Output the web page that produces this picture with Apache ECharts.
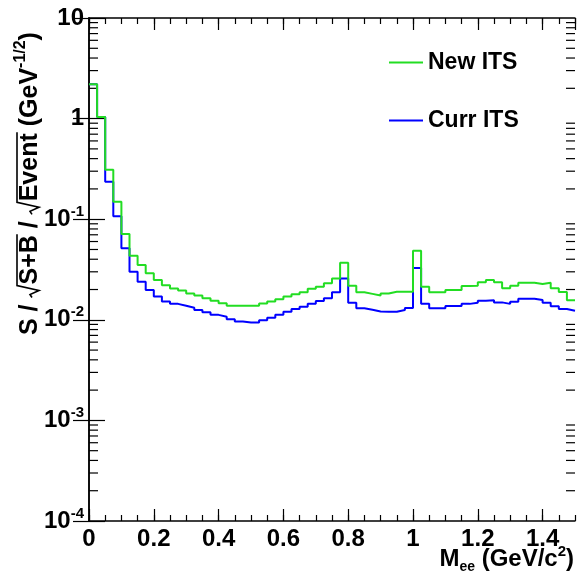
<!DOCTYPE html>
<html>
<head>
<meta charset="utf-8">
<script src="https://cdn.jsdelivr.net/npm/echarts@6.0.0/dist/echarts.min.js"></script>
<style>
  html, body { margin: 0; padding: 0; background: #fff; }
  #chart-container { width: 577px; height: 573px; }
</style>
</head>
<body>
<div id="chart-container"></div>
<script>
// histogram bins: 60 bins of 25 MeV from 0 to 1.5 GeV/c2
var binWidth = 0.025;
var xMax = 1.5;
var seriesNames = ["New ITS", "Curr ITS"];
var newIts = [
  2.2, 1.04, 0.31, 0.149, 0.0713, 0.0434, 0.0351, 0.029, 0.0249, 0.0221,
  0.0205, 0.0195, 0.0183, 0.0174, 0.0164, 0.0155, 0.0146, 0.0138, 0.0138, 0.0138,
  0.0138, 0.0145, 0.0152, 0.016, 0.017, 0.0179, 0.0188, 0.0203, 0.0213, 0.0231,
  0.0258, 0.037, 0.0218, 0.0188, 0.0181, 0.0174, 0.0183, 0.019, 0.019, 0.019,
  0.0486, 0.0213, 0.0188, 0.0188, 0.0198, 0.0198, 0.0217, 0.0218, 0.0236, 0.0249,
  0.0236, 0.0206, 0.0218, 0.0234, 0.0234, 0.0227, 0.0234, 0.0206, 0.0189, 0.0156
];
var currIts = [
  2.2, 1.04, 0.236, 0.107, 0.0513, 0.03, 0.0239, 0.0198, 0.017, 0.0152,
  0.0144, 0.0138, 0.0132, 0.0125, 0.0119, 0.0112, 0.0107, 0.0101, 0.0096, 0.0094,
  0.0094, 0.0099, 0.0105, 0.0112, 0.012, 0.0128, 0.0135, 0.0144, 0.0154, 0.0164,
  0.0188, 0.0258, 0.0148, 0.013, 0.0126, 0.0121, 0.012, 0.012, 0.0125, 0.0131,
  0.0328, 0.0144, 0.013, 0.013, 0.0137, 0.0137, 0.0144, 0.0148, 0.0155, 0.0156,
  0.0149, 0.0144, 0.0151, 0.0162, 0.0162, 0.0157, 0.0148, 0.0136, 0.0128, 0.0123
];
var yMin = 1e-4;
var yMax = 10;
var xMajor = 0.2;
var xMinor = 0.05;
var minorMultipliers = [2, 3, 4, 5, 6, 7, 8, 9];

var font = '"Liberation Sans", Arial, Helvetica, sans-serif';

// step data: left edge of each bin, plus closing point at the right edge
function toSteps(values) {
  var pts = values.map(function (v, i) { return [i * binWidth, v]; });
  pts.push([values.length * binWidth, values[values.length - 1]]);
  return pts;
}

var yMinorTicks = [];
for (var e = -4; e < 1; e++) {
  minorMultipliers.forEach(function (m) { yMinorTicks.push([0, m * Math.pow(10, e)]); });
}

// y axis title with radicals drawn as polylines
var ctx = document.createElement("canvas").getContext("2d");
function textW(str, size) {
  ctx.font = "bold " + size + "px " + font;
  return ctx.measureText(str).width;
}
var nameParts = [];
var cx = 0;
var nameSize = 25;
function addText(str, size, dy) {
  nameParts.push({
    type: "text", x: cx, y: dy || 0,
    style: { text: str, font: "bold " + size + "px " + font, fill: "#000", textAlign: "left", textVerticalAlign: "middle" }
  });
  cx += textW(str, size);
}
function addRadical(str) {
  var r0 = cx;
  cx += 13;
  addText(str, nameSize);
  nameParts.push({
    type: "polyline",
    shape: { points: [[r0, 2], [r0 + 3, 0], [r0 + 7, 9], [r0 + 12, -13], [cx + 1, -13]] },
    style: { stroke: "#000", lineWidth: 1.6, fill: null }
  });
}
addText("S / ", nameSize);
addRadical("S+B");
addText(" / ", nameSize);
addRadical("Event");
addText(" (GeV", nameSize);
addText("-1/2", 16, -9);
addText(")", nameSize);

var dom = document.getElementById("chart-container");
var myChart = echarts.init(dom, null, { renderer: "canvas" });
var option = {
  animation: false,
  backgroundColor: "#fff",
  grid: { left: 89, right: 2, top: 18, bottom: 52, containLabel: false, outerBoundsMode: "none" },
  legend: {
    data: seriesNames,
    orient: "vertical",
    left: 384,
    top: 46,
    icon: "rect",
    itemWidth: 34,
    itemHeight: 2,
    itemGap: 35,
    textStyle: { fontSize: 23, fontWeight: "bold", color: "#000", fontFamily: font }
  },
  xAxis: [
    {
      type: "value", position: "bottom", min: 0, max: xMax, interval: xMajor,
      axisLine: { lineStyle: { color: "#000", width: 1.5 } },
      axisTick: { inside: true, length: 12, lineStyle: { color: "#000", width: 1.2 } },
      axisLabel: {
        showMaxLabel: false, margin: 6, color: "#000", fontSize: 24, fontWeight: "bold", fontFamily: font,
        formatter: function (v) { return Math.abs(v - xMax) < 1e-9 ? "" : String(+v.toFixed(2)); }
      },
      splitLine: { show: false }
    },
    {
      type: "value", position: "bottom", min: 0, max: xMax, interval: xMinor,
      axisLine: { show: false },
      axisTick: { inside: true, length: 6, lineStyle: { color: "#000", width: 1.2 } },
      axisLabel: { show: false }, splitLine: { show: false }
    },
    {
      type: "value", position: "top", min: 0, max: xMax, interval: xMajor,
      axisLine: { lineStyle: { color: "#000", width: 1.5 } },
      axisTick: { inside: true, length: 12, lineStyle: { color: "#000", width: 1.2 } },
      axisLabel: { show: false }, splitLine: { show: false }
    },
    {
      type: "value", position: "top", min: 0, max: xMax, interval: xMinor,
      axisLine: { show: false },
      axisTick: { inside: true, length: 6, lineStyle: { color: "#000", width: 1.2 } },
      axisLabel: { show: false }, splitLine: { show: false }
    }
  ],
  yAxis: [
    {
      type: "log", logBase: 10, min: yMin, max: yMax, position: "left",
      axisLine: { lineStyle: { color: "#000", width: 1.5 } },
      axisTick: { inside: true, length: 16, lineStyle: { color: "#000", width: 1.2 } },
      axisLabel: {
        margin: 5, color: "#000", fontFamily: font,
        formatter: function (v) {
          var p = Math.round(Math.log10(v));
          if (p === 0) return "{b|1}";
          if (p === 1) return "{b|10}";
          return "{b|10}{sup|" + p + "}";
        },
        rich: {
          b: { fontSize: 24, fontWeight: "bold", color: "#000", fontFamily: font, lineHeight: 30 },
          sup: { fontSize: 15, fontWeight: "bold", color: "#000", fontFamily: font, lineHeight: 15, verticalAlign: "top" }
        }
      },
      splitLine: { show: false }
    },
    {
      type: "log", logBase: 10, min: yMin, max: yMax, position: "right",
      axisLine: { lineStyle: { color: "#000", width: 1.5 } },
      axisTick: { inside: true, length: 16, lineStyle: { color: "#000", width: 1.2 } },
      axisLabel: { show: false }, splitLine: { show: false }
    }
  ],
  graphic: [
    { type: "group", x: 30, y: 335, rotation: Math.PI / 2, children: nameParts },
    {
      type: "text", x: 574, y: 559,
      style: {
        text: "{b|M}{sub|ee}{b| (GeV/c}{sup|2}{b|)}",
        textAlign: "right", textVerticalAlign: "middle",
        rich: {
          b: { fontSize: 24, fontWeight: "bold", fill: "#000", fontFamily: font, lineHeight: 30 },
          sub: { fontSize: 14, fontWeight: "bold", fill: "#000", fontFamily: font, lineHeight: 14, verticalAlign: "bottom" },
          sup: { fontSize: 15, fontWeight: "bold", fill: "#000", fontFamily: font, lineHeight: 15, verticalAlign: "top" }
        }
      }
    }
  ],
  series: [
    {
      name: "Curr ITS", type: "line", step: "end", symbol: "none",
      data: toSteps(currIts),
      itemStyle: { color: "#0000ff" },
      lineStyle: { color: "#0000ff", width: 2 }
    },
    {
      name: "New ITS", type: "line", step: "end", symbol: "none",
      data: toSteps(newIts),
      itemStyle: { color: "#22dd22" },
      lineStyle: { color: "#22dd22", width: 2 }
    },
    {
      name: "minor ticks", type: "custom", silent: true, clip: false,
      data: yMinorTicks,
      encode: { x: 0, y: 1 },
      renderItem: function (params, api) {
        var l = api.coord([0, api.value(1)]);
        var r = api.coord([xMax, api.value(1)]);
        return {
          type: "group",
          children: [
            { type: "line", shape: { x1: l[0], y1: l[1], x2: l[0] + 9, y2: l[1] }, style: { stroke: "#000", lineWidth: 1.2 } },
            { type: "line", shape: { x1: r[0] - 9, y1: r[1], x2: r[0], y2: r[1] }, style: { stroke: "#000", lineWidth: 1.2 } }
          ]
        };
      }
    }
  ]
};
if (option && typeof option === "object") {
  myChart.setOption(option, true);
}
</script>
</body>
</html>
